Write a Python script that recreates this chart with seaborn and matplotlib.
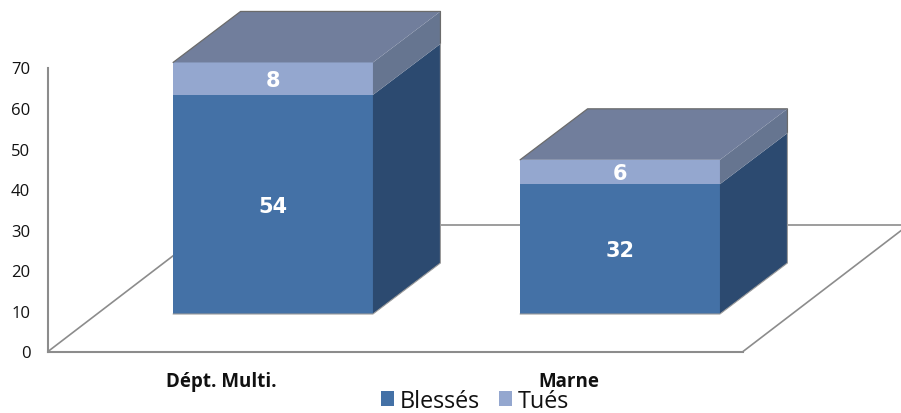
import numpy as np
import matplotlib
matplotlib.use("Agg")
import matplotlib.pyplot as plt
from matplotlib.patches import Polygon
from matplotlib.font_manager import FontProperties
import seaborn as sns

categories = ["Dépt. Multi.", "Marne"]
blesses = [54, 32]
tues = [8, 6]
y_ticks = [0, 10, 20, 30, 40, 50, 60, 70]

sns.set_style("white")
plt.rcParams['font.family'] = ['Open Sans', 'DejaVu Sans']

W, H = 901, 414
GRID = "#8c8c8c"
C_BLESSES = "#4471a6"
C_TUES = "#94a7cf"
C_SIDE_B = "#2c4a70"
C_SIDE_T = "#667590"
C_TOP = "#717e9c"

fig = plt.figure(figsize=(W / 100, H / 100), dpi=100)

# cadre : axe y + plancher en perspective
pos = [48 / W, 1 - 352.5 / H, 695 / W, 284 / H]
ax_frame = fig.add_axes(pos)
ax_frame.set_xlim(-0.5, 1.5)
ax_frame.set_ylim(0, 70)
ax_frame.set_xticks([0, 1], categories, fontweight="bold", fontsize=13.5)
ax_frame.set_yticks(y_ticks)
ax_frame.tick_params(axis="y", length=0, pad=12.7, labelsize=12, labelcolor="#111111")
ax_frame.tick_params(axis="x", length=0, pad=14, labelcolor="#111111")
for s in ["top", "right"]:
    ax_frame.spines[s].set_visible(False)
for s in ["left", "bottom"]:
    ax_frame.spines[s].set_color(GRID)
    ax_frame.spines[s].set_linewidth(1.5)

fx, fy = 166 / 695, 127 / 284
ax_frame.plot([0, fx], [0, fy], color=GRID, lw=1.2, transform=ax_frame.transAxes, clip_on=False)
ax_frame.plot([1, 1 + fx], [0, fy], color=GRID, lw=1.2, transform=ax_frame.transAxes, clip_on=False)
ax_frame.plot([fx, 1 + fx], [fy, fy], color=GRID, lw=1.2, transform=ax_frame.transAxes, clip_on=False)

# barres empilées, base remontée par rapport au plancher
ax = fig.add_axes(pos, zorder=2)
ax.patch.set_alpha(0)
totals = np.add(blesses, tues)
sns.barplot(x=categories, y=totals, color=C_TUES, width=0.576, saturation=1,
            edgecolor="none", label="Tués", ax=ax)
sns.barplot(x=categories, y=blesses, color=C_BLESSES, width=0.576, saturation=1,
            edgecolor="none", label="Blessés", ax=ax)
unit_y = 284 / 70
unit_x = 347
ax.set_xlim(-225 / unit_x, -225 / unit_x + 695 / unit_x)
ax.set_ylim(-37.5 / unit_y, -37.5 / unit_y + 70)
ax.set_axis_off()
ax.get_legend().remove() if ax.get_legend() else None

dx = 67.5 / unit_x
dy = 51 / unit_y
label_font = FontProperties(family="DejaVu Sans", weight="bold", size=15)

n = len(categories)
for i in range(n):
    top_p = ax.patches[i]
    low_p = ax.patches[n + i]
    x0 = top_p.get_x()
    x1 = x0 + top_p.get_width()
    total = top_p.get_height()
    b = low_p.get_height()
    top_p.set_clip_on(False)
    low_p.set_clip_on(False)
    ax.add_patch(Polygon([(x1, 0), (x1 + dx, dy), (x1 + dx, b + dy), (x1, b)],
                         facecolor=C_SIDE_B, edgecolor="none", clip_on=False))
    ax.add_patch(Polygon([(x1, b), (x1 + dx, b + dy), (x1 + dx, total + dy), (x1, total)],
                         facecolor=C_SIDE_T, edgecolor="none", clip_on=False))
    ax.add_patch(Polygon([(x0, total), (x0 + dx, total + dy), (x1 + dx, total + dy), (x1, total)],
                         facecolor=C_TOP, edgecolor="none", clip_on=False))
    ax.plot([x0, x0 + dx, x1 + dx, x1 + dx], [total, total + dy, total + dy, b + dy],
            color="#6b6b6b", lw=0.9, clip_on=False)
    ax.plot([x0, x1, x1 + dx, x1 + dx], [0, 0, dy, b + dy], color="#9a9a9a", lw=0.8, clip_on=False)
    xc = (x0 + x1) / 2
    ax.annotate(str(blesses[i]), (xc, b / 2), xytext=(0, -1), textcoords="offset points",
                color="white", fontproperties=label_font, ha="center", va="center")
    ax.annotate(str(tues[i]), (xc, b + tues[i] / 2), xytext=(0, -0.7), textcoords="offset points",
                color="white", fontproperties=label_font, ha="center", va="center")

handles = [ax.patches[n], ax.patches[0]]
fig.legend(handles, ["Blessés", "Tués"], loc="lower center", bbox_to_anchor=(475 / W, -11.5 / H),
           ncol=2, frameon=False, fontsize=16.8, handlelength=0.58, handleheight=0.58,
           handletextpad=0.25, columnspacing=0.8, labelcolor="#111111", borderpad=0)

fig.savefig("out.png", dpi=100)
